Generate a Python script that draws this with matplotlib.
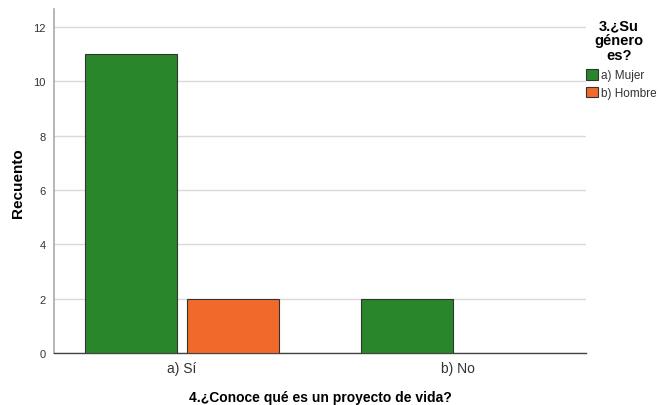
import matplotlib
matplotlib.use("Agg")
import matplotlib.pyplot as plt
from matplotlib.patches import Patch

categories = ["a) Sí", "b) No"]
series_names = ["a) Mujer", "b) Hombre"]
mujer = [11, 2]
hombre = [2, 0]
colors = ["#2a862a", "#f26a2b"]
yticks = [0, 2, 4, 6, 8, 10, 12]

plt.rcParams['font.family'] = ['Liberation Sans', 'DejaVu Sans']
fig = plt.figure(figsize=(6.61, 4.06), dpi=100)
ax = fig.add_axes([0.0817, 0.128, 0.8048, 0.847])

x = list(range(len(categories)))
w = 0.333
off = 0.186
ax.bar([i - off for i in x], mujer, width=w, color=colors[0], edgecolor="#333333", linewidth=0.8, zorder=3)
hx = [i + off for i, v in zip(x, hombre) if v > 0]
hv = [v for v in hombre if v > 0]
ax.bar(hx, hv, width=w, color=colors[1], edgecolor="#333333", linewidth=0.8, zorder=3)

ax.set_xlim(-0.464, 1.464)
ax.set_ylim(0, 12.66)
ax.set_yticks(yticks)
ax.set_xticks(x)
ax.set_xticklabels(categories, fontsize=10, color="#333333")
ax.tick_params(axis='y', labelsize=8, colors="#333333", length=0, pad=6)
ax.tick_params(axis='x', length=0, pad=6)
ax.yaxis.grid(True, color="#d9d9d9", linewidth=1, zorder=0)
ax.set_axisbelow(True)
for s in ["top", "right"]:
    ax.spines[s].set_visible(False)
ax.spines["left"].set_color("#aaaaaa")
ax.spines["left"].set_linewidth(1.2)
ax.spines["bottom"].set_color("#444444")
ax.spines["bottom"].set_linewidth(1)

fig.text(18/661, 1 - 183/406, "Recuento", rotation=90, ha="center", va="center", fontsize=11, fontweight="bold")
fig.text(320/661, 1 - 398/406, "4.¿Conoce qué es un proyecto de vida?", ha="center", va="center", fontsize=10, fontweight="bold")

fig.text(619/661, 1 - 41/406, "3.¿Su\ngénero\nes?", ha="center", va="center", fontsize=10.5, fontweight="bold", linespacing=1.08)
handles = [Patch(facecolor=c, edgecolor="#333333", linewidth=0.8) for c in colors]
leg = fig.legend(handles, series_names, loc="upper left", bbox_to_anchor=(586/661, 1 - 70/406),
                 frameon=False, fontsize=8.5, handlelength=1.0, handleheight=1.0,
                 handletextpad=0.3, labelspacing=0.45, borderpad=0, borderaxespad=0)
for t in leg.get_texts():
    t.set_color("#333333")

fig.savefig("out.png", dpi=100)
